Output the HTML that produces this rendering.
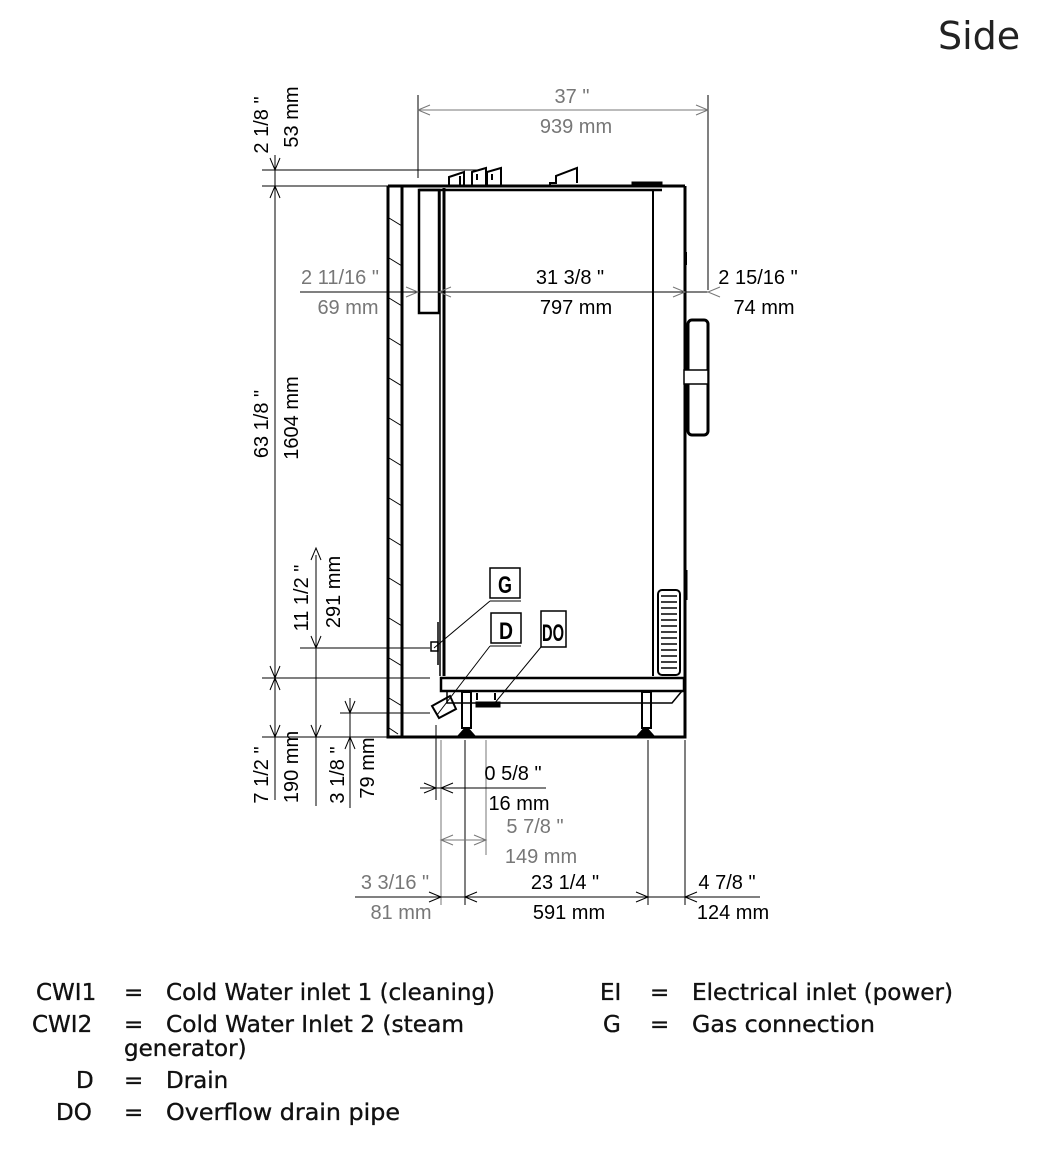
<!DOCTYPE html>
<html><head><meta charset="utf-8"><style>
html,body{margin:0;padding:0;background:#fff}
svg{display:block}
.d{font-family:"Liberation Sans",sans-serif;font-size:20px}
.g{fill:#777}
.l{font-family:"DejaVu Sans","Liberation Sans",sans-serif;font-size:23px;fill:#111;stroke:#111;stroke-width:0.35}
</style></head><body>
<svg width="1041" height="1154" viewBox="0 0 1041 1154" xmlns="http://www.w3.org/2000/svg">
<text x="938" y="49" font-family="DejaVu Sans,Liberation Sans,sans-serif" font-size="38" fill="#222">Side</text>

<g stroke="#000" fill="none">
<path d="M388 186V737H685V186" stroke-width="3"/>
<line x1="402" y1="186" x2="402" y2="737" stroke-width="3"/>
<line x1="388" y1="186" x2="685" y2="186" stroke-width="3"/>
<g stroke-width="1">
<line x1="389" y1="218" x2="402" y2="226"/><line x1="389" y1="258" x2="402" y2="266"/>
<line x1="389" y1="298" x2="402" y2="306"/><line x1="389" y1="338" x2="402" y2="346"/>
<line x1="389" y1="378" x2="402" y2="386"/><line x1="389" y1="418" x2="402" y2="426"/>
<line x1="389" y1="458" x2="402" y2="466"/><line x1="389" y1="498" x2="402" y2="506"/>
<line x1="389" y1="538" x2="402" y2="546"/><line x1="389" y1="578" x2="402" y2="586"/>
<line x1="389" y1="618" x2="402" y2="626"/><line x1="389" y1="658" x2="402" y2="666"/>
<line x1="389" y1="698" x2="402" y2="706"/><line x1="389" y1="728" x2="398" y2="734"/>
</g>
<rect x="419" y="190" width="20" height="123" stroke-width="2.5"/>
<line x1="419" y1="190" x2="662" y2="190" stroke-width="2.5"/>
<line x1="444" y1="188" x2="444" y2="676" stroke-width="3"/>
<line x1="653" y1="190" x2="653" y2="676" stroke-width="2"/>
<line x1="440" y1="190" x2="440" y2="676" stroke-width="1.5"/>
<path d="M449 185v-8l15-5v13M460 185v-9M472 185v-13l14-4v17M477 174v6M487 185v-13l14-4v17M492 174v6" stroke-width="2"/>
<path d="M550 185v-2h6v-7l21-8v15" stroke-width="2"/>
<rect x="632" y="182" width="30" height="4" fill="#000"/>
<rect x="688" y="320" width="20" height="115" rx="4" stroke-width="3"/>
<rect x="684" y="370" width="24" height="14" stroke-width="1.5" fill="#fff"/>
<line x1="686" y1="252" x2="686" y2="265" stroke-width="2"/>
<line x1="686" y1="570" x2="686" y2="600" stroke-width="3"/>
<rect x="658" y="590" width="22" height="85" rx="4" stroke-width="2"/>
<g stroke-width="1.5"><line x1="661" y1="596" x2="677" y2="596"/><line x1="661" y1="602" x2="677" y2="602"/><line x1="661" y1="608" x2="677" y2="608"/><line x1="661" y1="614" x2="677" y2="614"/><line x1="661" y1="620" x2="677" y2="620"/><line x1="661" y1="626" x2="677" y2="626"/><line x1="661" y1="632" x2="677" y2="632"/><line x1="661" y1="638" x2="677" y2="638"/><line x1="661" y1="644" x2="677" y2="644"/><line x1="661" y1="650" x2="677" y2="650"/><line x1="661" y1="656" x2="677" y2="656"/><line x1="661" y1="662" x2="677" y2="662"/><line x1="661" y1="668" x2="677" y2="668"/></g>
<rect x="441" y="678" width="243" height="13" stroke-width="2.5"/>
<path d="M447 691v12h225l10-12" stroke-width="1.5"/>
<path d="M432 706l18-10 6 13-17 9z" stroke-width="2"/>
<rect x="462" y="692" width="9" height="36" stroke-width="2"/>
<rect x="642" y="692" width="9" height="36" stroke-width="2"/>
<path d="M457 737l7-8h5l7 8zM636 737l7-8h5l7 8z" fill="#000"/>
<rect x="476" y="702" width="24" height="5" fill="#000"/>
<line x1="477" y1="693" x2="477" y2="700" stroke-width="2"/>
<line x1="495" y1="693" x2="495" y2="700" stroke-width="2"/>
<rect x="431" y="642" width="7" height="9" stroke-width="1.5"/>
<line x1="438" y1="622" x2="438" y2="665" stroke-width="1.5"/>
<rect x="490" y="568" width="30" height="30" stroke-width="1.5" fill="#fff"/>
<rect x="491" y="613" width="30" height="30" stroke-width="1.5" fill="#fff"/>
<rect x="541" y="611" width="25" height="36" stroke-width="1.5" fill="#fff"/>
<g stroke-width="1"><line x1="490" y1="601" x2="521" y2="601"/><line x1="490" y1="601" x2="434" y2="648"/>
<line x1="490" y1="646" x2="521" y2="646"/><line x1="490" y1="646" x2="437" y2="715"/>
<line x1="541" y1="647" x2="494" y2="704"/></g>
</g>
<g font-family="Liberation Sans,sans-serif" font-weight="bold" font-size="24" text-anchor="middle">
<text x="505" y="593" textLength="14" lengthAdjust="spacingAndGlyphs">G</text>
<text x="506" y="639" textLength="14" lengthAdjust="spacingAndGlyphs">D</text>
<text x="553" y="641" textLength="22" lengthAdjust="spacingAndGlyphs">DO</text>
</g>

<g stroke="#000" stroke-width="1" fill="none">
<line x1="418" y1="95" x2="418" y2="178"/><line x1="708" y1="95" x2="708" y2="290"/>
<line x1="418" y1="110" x2="708" y2="110" stroke="#777"/>
<line x1="262" y1="170" x2="480" y2="170"/>
<line x1="262" y1="186" x2="388" y2="186"/>
<line x1="275" y1="155" x2="275" y2="800"/>
<line x1="300" y1="292" x2="708" y2="292"/>
<line x1="262" y1="678" x2="430" y2="678"/>
<line x1="300" y1="648" x2="430" y2="648"/>
<line x1="340" y1="713" x2="430" y2="713"/>
<line x1="262" y1="737" x2="388" y2="737"/>
<line x1="316" y1="555" x2="316" y2="806"/>
<line x1="350" y1="698" x2="350" y2="808"/>
<line x1="436" y1="725" x2="436" y2="800"/>
<line x1="441" y1="740" x2="441" y2="905" stroke="#777"/>
<line x1="465" y1="740" x2="465" y2="905"/>
<line x1="486" y1="740" x2="486" y2="855" stroke="#777"/>
<line x1="648" y1="740" x2="648" y2="905"/>
<line x1="685" y1="740" x2="685" y2="905"/>
<line x1="420" y1="788" x2="546" y2="788"/>
<line x1="441" y1="840" x2="486" y2="840" stroke="#777"/>
<line x1="355" y1="897" x2="760" y2="897"/>
</g>
<g stroke="#000" stroke-width="1" fill="none">
<path d="M430 105l-12 5 12 5M696 105l12 5-12 5" stroke="#777"/>
<path d="M270 158l5 12 5-12M270 198l5-12 5 12M270 666l5 12 5-12M270 690l5-12 5 12M270 725l5 12 5-12"/>
<path d="M311 560l5-12 5 12M311 636l5 12 5-12M311 725l5 12 5-12"/>
<path d="M345 701l5 12 5-12M345 749l5-12 5 12"/>
<path d="M406 287l12 5-12 5M451 287l-12 5 12 5M673 287l12 5-12 5M720 287l-12 5 12 5" stroke="#777"/>
<path d="M424 783l12 5-12 5M453 783l-12 5 12 5"/>
<path d="M453 835l-12 5 12 5M474 835l12 5-12 5" stroke="#777"/>
<path d="M429 892l12 5-12 5M477 892l-12 5 12 5M636 892l12 5-12 5M697 892l-12 5 12 5"/>
</g>

<g class="d" text-anchor="middle">
<text x="572" y="103" class="g">37 "</text>
<text x="576" y="133" class="g">939 mm</text>
<text x="340" y="284" class="g">2 11/16 "</text>
<text x="348" y="314" class="g">69 mm</text>
<text x="570" y="284">31 3/8 "</text>
<text x="576" y="314">797 mm</text>
<text x="758" y="284">2 15/16 "</text>
<text x="764" y="314">74 mm</text>
<text x="513" y="780">0 5/8 "</text>
<text x="519" y="810">16 mm</text>
<text x="535" y="833" class="g">5 7/8 "</text>
<text x="541" y="863" class="g">149 mm</text>
<text x="395" y="889" class="g">3 3/16 "</text>
<text x="401" y="919" class="g">81 mm</text>
<text x="565" y="889">23 1/4 "</text>
<text x="569" y="919">591 mm</text>
<text x="727" y="889">4 7/8 "</text>
<text x="733" y="919">124 mm</text>
<text transform="translate(268,125) rotate(-90)">2 1/8 "</text>
<text transform="translate(298,117) rotate(-90)">53 mm</text>
<text transform="translate(268,424) rotate(-90)">63 1/8 "</text>
<text transform="translate(298,418) rotate(-90)">1604 mm</text>
<text transform="translate(308,598) rotate(-90)">11 1/2 "</text>
<text transform="translate(340,592) rotate(-90)">291 mm</text>
<text transform="translate(268,775) rotate(-90)">7 1/2 "</text>
<text transform="translate(298,767) rotate(-90)">190 mm</text>
<text transform="translate(344,775) rotate(-90)">3 1/8 "</text>
<text transform="translate(374,768) rotate(-90)">79 mm</text>
</g>

<g class="l">
<text x="36" y="1000">CWI1</text><text x="124" y="1000">=</text><text x="166" y="1000" textLength="329" lengthAdjust="spacingAndGlyphs">Cold Water inlet 1 (cleaning)</text>
<text x="32" y="1032">CWI2</text><text x="124" y="1032">=</text><text x="166" y="1032" textLength="298" lengthAdjust="spacingAndGlyphs">Cold Water Inlet 2 (steam</text>
<text x="124" y="1056">generator)</text>
<text x="76" y="1088">D</text><text x="124" y="1088">=</text><text x="166" y="1088">Drain</text>
<text x="56" y="1120">DO</text><text x="124" y="1120">=</text><text x="166" y="1120" textLength="234" lengthAdjust="spacingAndGlyphs">Overflow drain pipe</text>
<text x="600" y="1000">EI</text><text x="650" y="1000">=</text><text x="692" y="1000" textLength="261" lengthAdjust="spacingAndGlyphs">Electrical inlet (power)</text>
<text x="603" y="1032">G</text><text x="650" y="1032">=</text><text x="692" y="1032" textLength="183" lengthAdjust="spacingAndGlyphs">Gas connection</text>
</g>
</svg>
</body></html>
